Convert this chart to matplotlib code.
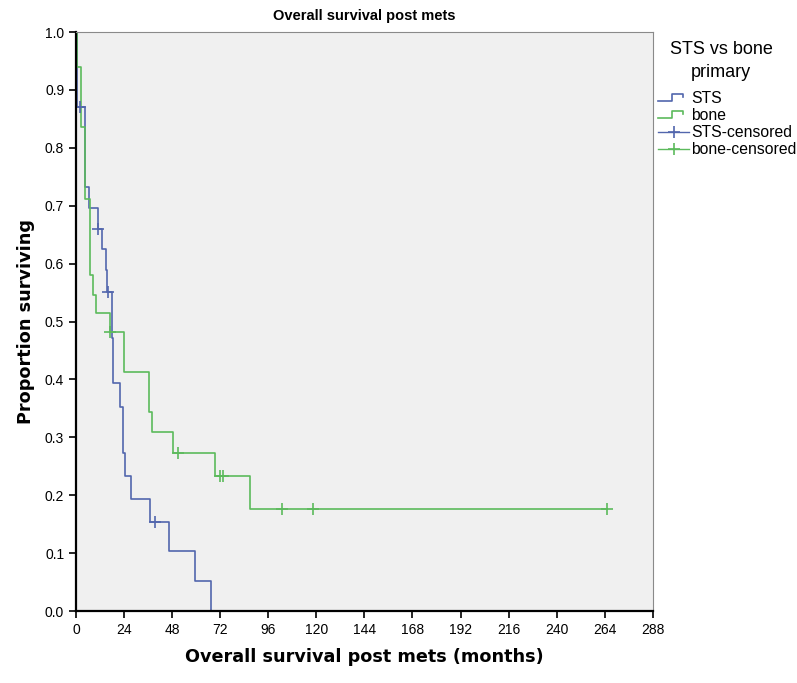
import numpy as np
import matplotlib
matplotlib.use('Agg')
import matplotlib.pyplot as plt
from matplotlib.lines import Line2D
from matplotlib.legend_handler import HandlerBase

# ── Kaplan-Meier step data (months, proportion) ─────────────────────────────
sts_times = [0, 0.5, 4.5, 6.5, 10.8, 12.8, 14.8, 15.6, 17.8, 18.7, 22.0,
             23.7, 24.5, 27.5, 37.0, 46.2, 59.2, 67.4]
sts_surv = [1.0, 0.871, 0.733, 0.697, 0.660, 0.625, 0.589, 0.551, 0.472,
            0.393, 0.353, 0.273, 0.234, 0.193, 0.154, 0.103, 0.051, 0.0]
sts_censored = [2.0, 10.8, 16.2, 39.2]

bone_times = [0, 0.5, 2.6, 4.4, 6.8, 8.7, 9.8, 17.0, 24.2, 36.2, 37.9,
              48.2, 69.2, 87.0, 265.0]
bone_surv = [1.0, 0.939, 0.836, 0.712, 0.580, 0.546, 0.514, 0.482, 0.413,
             0.344, 0.310, 0.273, 0.234, 0.176, 0.176]
bone_censored = [17.0, 50.9, 72.0, 73.6, 103.0, 118.5, 265.0]

x_ticks = list(range(0, 289, 24))
y_ticks = [0.0, 0.1, 0.2, 0.3, 0.4, 0.5, 0.6, 0.7, 0.8, 0.9, 1.0]

STS_COLOR = "#5266ad"
BONE_COLOR = "#5cba5c"


def surv_at(times, surv, t):
    # survival value of a post-step curve at time t
    idx = np.searchsorted(times, t, side="right") - 1
    return surv[max(idx, 0)]


class StepHandler(HandlerBase):
    """little step-shaped legend icon like SPSS draws"""
    def create_artists(self, legend, orig_handle, xdescent, ydescent,
                       width, height, fontsize, trans):
        xs = np.array([0, 0.45, 0.45, 0.8, 0.8]) * width - xdescent
        ys = np.array([0.15, 0.15, 0.85, 0.85, 0.55]) * height - ydescent
        line = Line2D(xs, ys, color=orig_handle.get_color(), lw=1.2)
        line.set_transform(trans)
        return [line]


fig = plt.figure(figsize=(7.97, 6.83), dpi=100)
ax = fig.add_axes([0.0954, 0.1054, 0.7236, 0.8476])
ax.set_facecolor("#f0f0f0")

ax.step(sts_times, sts_surv, where="post", color=STS_COLOR, lw=1.2)
ax.step(bone_times, bone_surv, where="post", color=BONE_COLOR, lw=1.2)

sts_cy = [surv_at(sts_times, sts_surv, t) for t in sts_censored]
bone_cy = [surv_at(bone_times, bone_surv, t) for t in bone_censored]
ax.plot(sts_censored, sts_cy, linestyle="none", marker="+", ms=9,
        mew=1.2, color=STS_COLOR)
ax.plot(bone_censored, bone_cy, linestyle="none", marker="+", ms=9,
        mew=1.2, color=BONE_COLOR)

ax.set_xlim(0, 288)
ax.set_ylim(0, 1.0)
ax.set_xticks(x_ticks)
ax.set_yticks(y_ticks)
ax.set_yticklabels([f"{v:.1f}" for v in y_ticks])
ax.tick_params(direction="out", length=5, width=1.2, labelsize=10,
               top=False, right=False)
for lab in ax.get_xticklabels() + ax.get_yticklabels():
    lab.set_family("Liberation Sans")

ax.spines["left"].set_linewidth(1.6)
ax.spines["bottom"].set_linewidth(1.6)
ax.spines["top"].set_color("#8a8a8a")
ax.spines["right"].set_color("#8a8a8a")

ax.set_title("Overall survival post mets", fontsize=10.5, fontweight="bold",
             family="Liberation Sans", pad=9)
ax.set_xlabel("Overall survival post mets (months)", fontsize=12.7,
              fontweight="bold", labelpad=8)
ax.set_ylabel("Proportion surviving", fontsize=12.7, fontweight="bold",
              labelpad=7)

# Legend title drawn separately so it can sit centred above the entries
fig.text(0.905, 1 - 61 / 683, "STS vs bone\nprimary", ha="center",
         va="center", family="Liberation Sans", fontsize=13, linespacing=1.4)

h_sts = Line2D([], [], color=STS_COLOR)
h_bone = Line2D([], [], color=BONE_COLOR)
h_sts_c = Line2D([], [], color=STS_COLOR, marker="+", ms=9, mew=1.2, lw=1.0)
h_bone_c = Line2D([], [], color=BONE_COLOR, marker="+", ms=9, mew=1.2, lw=1.0)
fig.legend(
    handles=[h_sts, h_bone, h_sts_c, h_bone_c],
    labels=["STS", "bone", "STS-censored", "bone-censored"],
    handler_map={h_sts: StepHandler(), h_bone: StepHandler()},
    loc="upper left",
    bbox_to_anchor=(0.8256, 1 - 91 / 683),
    frameon=False,
    prop={"family": "Liberation Sans", "size": 11.3},
    handlelength=2.0,
    handletextpad=0.1,
    labelspacing=0.13,
    borderaxespad=0,
    borderpad=0,
)

fig.savefig("out.png", dpi=100)
